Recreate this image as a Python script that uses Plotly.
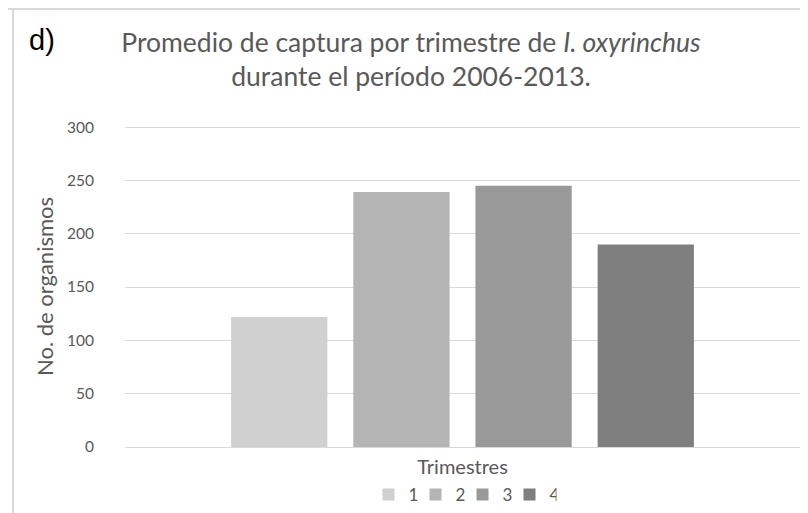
import plotly.graph_objects as go

# Data
categorias = ["Trimestres"]
trimestres = ["1", "2", "3", "4"]
promedios = [122, 239, 245, 190]
colores = ["#d0d0d0", "#b4b4b4", "#999999", "#7f7f7f"]
y_ticks = [0, 50, 100, 150, 200, 250, 300]

# The page body adds an 8px offset, so the figure is 8px smaller and
# all screen positions below are expressed in figure pixels (screen - 8).
W, H = 800, 505
ML, MR, MT, MB = 117, 8, 118, 66
PW, PH = W - ML - MR, H - MT - MB


def px2x(px):
    return (px - ML) / PW


def py2y(py):
    return (H - MB - py) / PH


fig = go.Figure()
for name, val, col in zip(trimestres, promedios, colores):
    fig.add_trace(go.Bar(
        x=categorias, y=[val], name=name,
        marker=dict(color=col, line=dict(width=0)),
    ))

fig.update_layout(
    width=W, height=H,
    margin=dict(l=ML, r=MR, t=MT, b=MB, autoexpand=False),
    paper_bgcolor="white", plot_bgcolor="white",
    barmode="group", bargap=0.276, bargroupgap=0.212,
    font=dict(family="Lato, Open Sans, sans-serif", color="#595959"),
    title=dict(
        text="Promedio de captura por trimestre de <i>I. oxyrinchus</i><br>durante el período 2006-2013.",
        x=403 / W, xref="container", xanchor="center",
        y=1 - 44 / H, yref="container", yanchor="middle",
        font=dict(size=26.5, color="#595959"),
    ),
    xaxis=dict(
        showticklabels=False, showgrid=False, zeroline=False, showline=False,
        title=dict(text="Trimestres", font=dict(size=20, color="#595959"), standoff=12),
    ),
    yaxis=dict(
        range=[0, 301], tickvals=y_ticks, ticks="",
        showgrid=True, gridcolor="#d9d9d9", gridwidth=1,
        zeroline=True, zerolinecolor="#d9d9d9", zerolinewidth=1,
        showline=False,
        tickfont=dict(size=15.5, color="#595959"),
        ticklabelstandoff=30,
        title=dict(text="No. de organismos", font=dict(size=22, color="#595959"), standoff=7),
    ),
    showlegend=True,
    legend=dict(
        orientation="h", x=0.5, xanchor="center", y=py2y(487), yanchor="middle",
        font=dict(size=17, color="#595959"),
        entrywidth=2, entrywidthmode="pixels",
        bgcolor="rgba(0,0,0,0)",
    ),
    annotations=[dict(
        text="d)", xref="paper", yref="paper", x=px2x(33.5), y=py2y(32),
        xanchor="center", yanchor="middle", showarrow=False,
        font=dict(family="Liberation Sans, Arial, sans-serif", size=29, color="black"),
    )],
    shapes=[
        dict(type="line", xref="paper", yref="paper", x0=px2x(0), x1=px2x(W), y0=py2y(1), y1=py2y(1),
             line=dict(color="#d9d9d9", width=2)),
        dict(type="line", xref="paper", yref="paper", x0=px2x(5), x1=px2x(5), y0=py2y(1), y1=py2y(H),
             line=dict(color="#d9d9d9", width=2)),
    ],
)

fig.write_html("out.html")
